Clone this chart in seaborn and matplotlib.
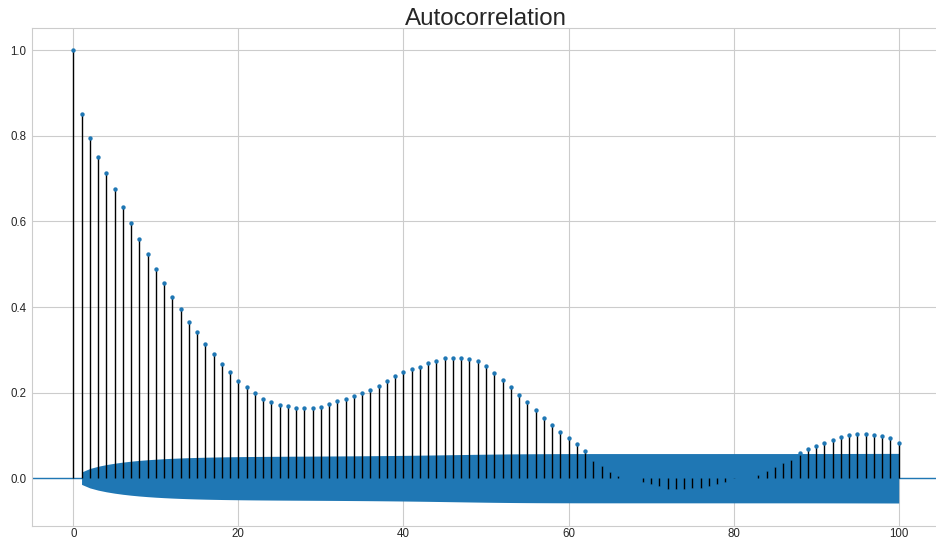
import numpy as np
import pandas as pd
import matplotlib
matplotlib.use("Agg")
import matplotlib.pyplot as plt
import seaborn as sns

# Autocorrelation values, lags 0..100
acf_values = [
    1.000, 0.852, 0.794, 0.751, 0.713, 0.676, 0.634, 0.597, 0.558, 0.523,
    0.489, 0.455, 0.423, 0.396, 0.364, 0.341, 0.314, 0.290, 0.268, 0.247,
    0.226, 0.213, 0.199, 0.186, 0.178, 0.171, 0.169, 0.164, 0.164, 0.164,
    0.167, 0.173, 0.181, 0.184, 0.192, 0.199, 0.206, 0.216, 0.227, 0.238,
    0.248, 0.255, 0.261, 0.269, 0.275, 0.280, 0.280, 0.282, 0.278, 0.273,
    0.263, 0.246, 0.229, 0.213, 0.194, 0.178, 0.160, 0.141, 0.124, 0.107,
    0.095, 0.080, 0.064, 0.045, 0.033, 0.019, 0.010, 0.000, -0.002, -0.014,
    -0.018, -0.023, -0.030, -0.030, -0.030, -0.027, -0.027, -0.023, -0.018, -0.013,
    -0.005, 0.000, 0.001, 0.011, 0.021, 0.031, 0.040, 0.048, 0.059, 0.069,
    0.076, 0.083, 0.089, 0.097, 0.100, 0.103, 0.103, 0.100, 0.099, 0.093,
    0.083,
]
lags = list(range(len(acf_values)))
nobs = 18400  # sample size used for the Bartlett confidence band
title = "Autocorrelation"
x_ticks = [0, 20, 40, 60, 80, 100]
y_ticks = [0.0, 0.2, 0.4, 0.6, 0.8, 1.0]

df = pd.DataFrame({"lag": lags, "acf": acf_values})

# Bartlett standard errors (95%)
acf_arr = np.asarray(acf_values)
varacf = np.ones(len(acf_arr)) / nobs
varacf[0] = 0
varacf[1] = 1.0 / nobs
varacf[2:] *= 1 + 2 * np.cumsum(acf_arr[1:-1] ** 2)
band = 1.959964 * np.sqrt(varacf)

sns.set_style("whitegrid")
plt.rcParams["font.family"] = ["Liberation Sans", "DejaVu Sans"]

fig = plt.figure(figsize=(9.36, 5.4), dpi=100)
ax = fig.add_axes([32 / 936, 1 - 525.7 / 540, 908 / 936, (525.7 - 28) / 540])

blue = "#1f77b4"
ax.fill_between(df["lag"][1:], -band[1:], band[1:], color=blue, linewidth=0, zorder=1)
ax.axhline(0, color=blue, linewidth=1.0, zorder=1.5)
ax.vlines(df["lag"], 0, df["acf"], colors="black", linewidth=1.0, zorder=2)
sns.scatterplot(data=df, x="lag", y="acf", ax=ax, color=blue, s=10,
                linewidth=0, zorder=3)

ax.set_xlim(-5, 105)
ax.set_ylim(-0.111, 1.052)
ax.set_xticks(x_ticks)
ax.set_yticks(y_ticks)
ax.set_xticklabels([str(t) for t in x_ticks])
ax.set_yticklabels([f"{t:.1f}" for t in y_ticks])
ax.tick_params(labelsize=8.3, colors=".15", length=0)
ax.tick_params(axis="x", pad=1.5)
ax.tick_params(axis="y", pad=4)
ax.set_xlabel("")
ax.set_ylabel("")
ax.set_title(title, fontsize=17.4, color=".15", pad=2)
for s in ax.spines.values():
    s.set_color(".8")

fig.savefig("out.png", dpi=100)
